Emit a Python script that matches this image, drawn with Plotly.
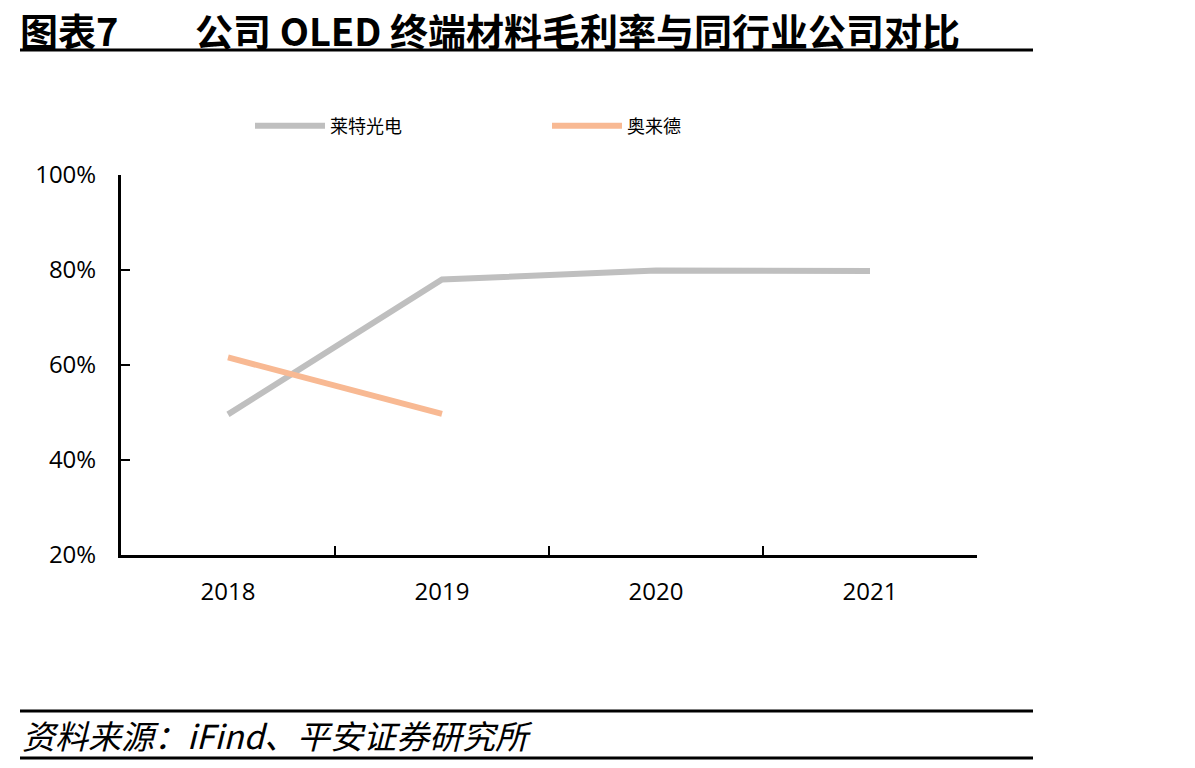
import plotly.graph_objects as go

years = ["2018", "2019", "2020", "2021"]
laite = [49.6, 78.0, 79.9, 79.8]
aolaide = [61.6, 49.7, None, None]
y_ticks = [20, 40, 60, 80, 100]
y_labels = ["20%", "40%", "60%", "80%", "100%"]

L, R, T, B = 121, 977, 175, 555
W, H = 1195, 768
pw, ph = R - L, B - T

def px(x):
    return (x - L) / pw

def py(y):
    return (B - y) / ph

fig = go.Figure()
fig.add_trace(go.Scatter(x=years, y=laite, mode="lines", name="莱特光电",
                         line=dict(color="#BFBFBF", width=6)))
fig.add_trace(go.Scatter(x=years, y=aolaide, mode="lines", name="奥来德",
                         line=dict(color="#F8B993", width=6)))

fig.update_layout(
    width=W, height=H,
    margin=dict(l=L, r=W - R, t=T, b=H - B),
    paper_bgcolor="white", plot_bgcolor="white",
    font=dict(family="Open Sans, Noto Sans CJK SC", color="black", size=24),
    showlegend=True,
    legend=dict(orientation="h", x=px(250), y=py(126), xanchor="left", yanchor="middle",
                font=dict(size=18, family="Noto Sans CJK SC"),
                entrywidth=212, entrywidthmode="pixels", itemwidth=70,
                bgcolor="rgba(0,0,0,0)"),
    xaxis=dict(type="category", range=[-0.5, 3.5], showline=True, linecolor="black", linewidth=3,
               ticks="inside", tickson="boundaries", ticklen=9, tickwidth=2, tickcolor="black",
               showgrid=False, zeroline=False, tickfont=dict(size=24), ticklabelstandoff=13),
    yaxis=dict(range=[20, 100], tickvals=y_ticks, ticktext=y_labels, showline=True,
               linecolor="black", linewidth=3, ticks="inside", ticklen=9, tickwidth=2,
               tickcolor="black", showgrid=False, zeroline=False, tickfont=dict(size=24),
               ticklabelstandoff=17),
)

# Title
fig.add_annotation(text="<b>图表7</b>", xref="paper", yref="paper", x=px(19), y=py(1),
                   xanchor="left", yanchor="top", showarrow=False, borderpad=0,
                   font=dict(size=38, family="Noto Sans CJK SC", color="black"))
fig.add_annotation(text="<b>公司 OLED 终端材料毛利率与同行业公司对比</b>", xref="paper", yref="paper",
                   x=px(194), y=py(1), xanchor="left", yanchor="top", showarrow=False, borderpad=0,
                   font=dict(size=38, family="Noto Sans CJK SC", color="black"))
# Footer
fig.add_annotation(text="<i>资料来源：iFind、平安证券研究所</i>", xref="paper", yref="paper",
                   x=px(20), y=py(735), xanchor="left", yanchor="middle", showarrow=False,
                   font=dict(size=33, family="Noto Sans CJK SC", color="black"))

for yy in (50, 711, 758):
    fig.add_shape(type="line", xref="paper", yref="paper", x0=px(20), x1=px(1033),
                  y0=py(yy), y1=py(yy), line=dict(color="black", width=3))

fig.write_html("out.html")
